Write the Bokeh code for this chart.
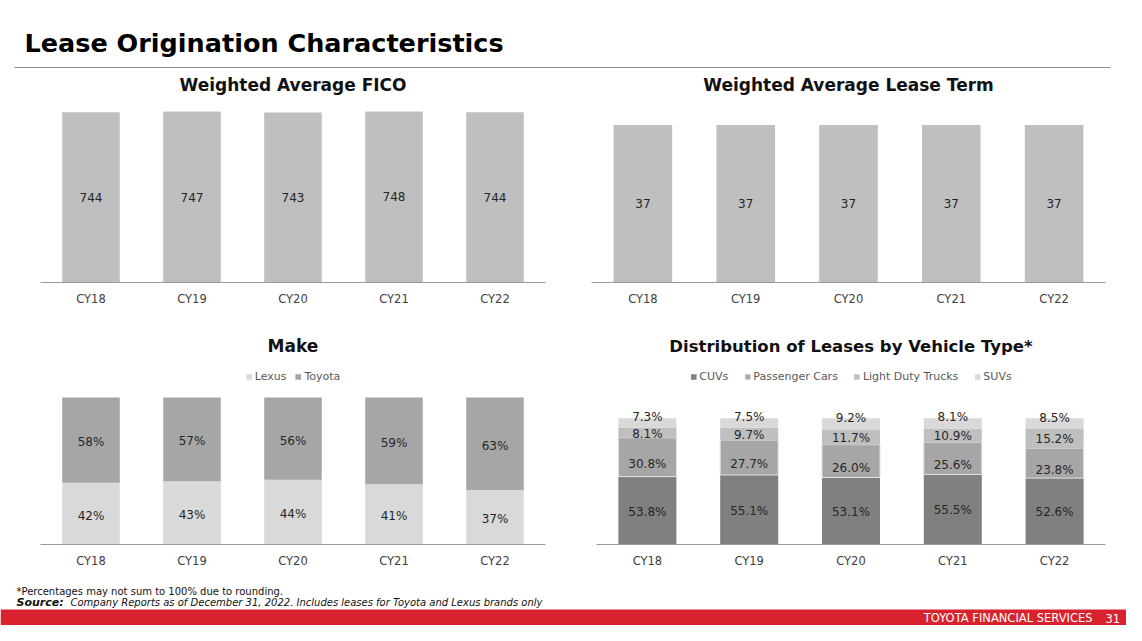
import numpy as np
from bokeh.plotting import figure
from bokeh.models import (Range1d, FactorRange, ColumnDataSource, Legend, LegendItem, Label)
from bokeh.layouts import column, row
from bokeh.embed import file_html
from bokeh.resources import INLINE
from bokeh.core.properties import value

# ---------------- data ----------------
years = ["CY18", "CY19", "CY20", "CY21", "CY22"]
fico = [744, 747, 743, 748, 744]
lease_term = [37, 37, 37, 37, 37]
make_names = ["Lexus", "Toyota"]
make_lexus = [42, 43, 44, 41, 37]
make_toyota = [58, 57, 56, 59, 63]
veh_names = ["CUVs", "Passenger Cars", "Light Duty Trucks", "SUVs"]
veh_cuvs = [53.8, 55.1, 53.1, 55.5, 52.6]
veh_pcars = [30.8, 27.7, 26.0, 25.6, 23.8]
veh_ldt = [8.1, 9.7, 11.7, 10.9, 15.2]
veh_suvs = [7.3, 7.5, 9.2, 8.1, 8.5]

FONT = "DejaVu Sans"
TXT = "#262626"
AXIS = "#9A9A9A"
RED = "#D8232F"


def base_chart(title, w, h, bl, br, bt, bb, yend, standoff, title_size="17px"):
    p = figure(x_range=FactorRange(*years), y_range=Range1d(0, yend),
               width=w, height=h, output_backend="svg", toolbar_location=None,
               min_border_left=bl, min_border_right=br, min_border_top=bt,
               min_border_bottom=bb, y_axis_location=None, title=title)
    p.x_range.range_padding = 0
    p.outline_line_color = None
    p.xgrid.grid_line_color = None
    p.ygrid.grid_line_color = None
    p.title.align = "center"
    p.title.text_font = FONT
    p.title.text_font_style = "bold"
    p.title.text_font_size = title_size
    p.title.text_color = "#111111"
    p.title.standoff = standoff
    ax = p.xaxis[0]
    ax.axis_line_color = AXIS
    ax.axis_line_width = 1.2
    ax.major_tick_line_color = None
    ax.minor_tick_line_color = None
    ax.major_tick_out = 0
    ax.major_tick_in = 0
    ax.major_label_standoff = 9
    ax.major_label_text_font = FONT
    ax.major_label_text_font_size = "11.5px"
    ax.major_label_text_color = "#404040"
    return p


def add_labels(p, xs, ys, texts, size="12px", y_offset=0):
    src = ColumnDataSource(dict(x=xs, y=ys, t=texts))
    p.text(x="x", y="y", text="t", source=src, text_align="center",
           text_baseline="middle", text_font=value(FONT), text_font_size=size,
           text_color=TXT, y_offset=y_offset)


def add_legend(p, items, spacing):
    lg = Legend(items=items, orientation="horizontal", location="top_center",
                margin=9, padding=6, spacing=spacing, label_standoff=3,
                glyph_width=7, glyph_height=7, label_height=12,
                label_text_font=FONT, label_text_font_size="11px",
                label_text_color="#595959", border_line_color=None,
                background_fill_alpha=0)
    p.add_layout(lg, "center")


# ---------------- FICO ----------------
p1 = base_chart("Weighted Average FICO", 563, 257, 40, 18, 31, 42, 800, 9)
p1.vbar(x=years, top=fico, width=0.57, color="#BFBFBF", line_color=None)
add_labels(p1, years, [v / 2 for v in fico], [str(v) for v in fico])

# ---------------- Lease term ----------------
p2 = base_chart("Weighted Average Lease Term", 563, 257, 28, 21, 31, 43, 43, 9)
p2.vbar(x=years, top=lease_term, width=0.57, color="#BFBFBF", line_color=None)
add_labels(p2, years, [v / 2 for v in lease_term], [str(v) for v in lease_term])

# ---------------- Make ----------------
p3 = base_chart("Make", 563, 255, 40, 18, 36, 36, 124.5, 12)
src3 = ColumnDataSource(dict(x=years, Lexus=make_lexus, Toyota=make_toyota))
r3 = p3.vbar_stack(make_names, x="x", width=0.57, color=["#D9D9D9", "#A6A6A6"],
                   line_color=None, source=src3)
add_legend(p3, [LegendItem(label=n, renderers=[r]) for n, r in zip(make_names, r3)], 8)
lex = np.array(make_lexus, dtype=float)
toy = np.array(make_toyota, dtype=float)
add_labels(p3, years, list(lex / 2), [f"{v}%" for v in make_lexus], y_offset=2)
add_labels(p3, years, list(lex + toy / 2), [f"{v}%" for v in make_toyota], y_offset=2)

# ---------------- Vehicle type ----------------
p4 = base_chart("Distribution of Leases by Vehicle Type*", 563, 255, 33, 21, 36, 36, 145, 12,
                title_size="16.5px")
src4 = ColumnDataSource(dict(x=years, CUVs=veh_cuvs, PC=veh_pcars, LDT=veh_ldt, SUVs=veh_suvs))
r4 = p4.vbar_stack(["CUVs", "PC", "LDT", "SUVs"], x="x", width=0.57,
                   fill_color=["#808080", "#A6A6A6", "#BFBFBF", "#D9D9D9"],
                   line_color=[None, "#E3E3E3", None, None], line_width=1, source=src4)
add_legend(p4, [LegendItem(label=n, renderers=[r]) for n, r in zip(veh_names, r4)], 15)
series = [veh_cuvs, veh_pcars, veh_ldt, veh_suvs]
offsets = [1, 7, 1, -6]
cum = np.zeros(len(years))
for s, off in zip(series, offsets):
    arr = np.array(s)
    add_labels(p4, years, list(cum + arr / 2), [f"{v:.1f}%" for v in s], y_offset=off)
    cum = cum + arr


# ---------------- header / footer canvases ----------------
def canvas(w, h):
    p = figure(width=w, height=h, x_range=Range1d(0, w), y_range=Range1d(h, 0),
               output_backend="svg", toolbar_location=None, min_border=0,
               x_axis_location=None, y_axis_location=None)
    p.outline_line_color = None
    p.xgrid.grid_line_color = None
    p.ygrid.grid_line_color = None
    return p


hdr = canvas(1126, 68)
hdr.add_layout(Label(x=24, y=42, text="Lease Origination Characteristics",
                     text_font=FONT, text_font_style="bold", text_font_size="25.5px",
                     text_color="#000000", text_baseline="middle"))
hdr.segment(x0=[14], y0=[67.5], x1=[1110], y1=[67.5], line_color="#222222", line_width=1)

ftr = canvas(1126, 45)
ftr.quad(left=[0], right=[1126], top=[29], bottom=[45], fill_color=RED, line_color=None)
ftr.add_layout(Label(x=16, y=11, text="*Percentages may not sum to 100% due to rounding.",
                     text_font=FONT, text_font_size="10px", text_color="#111111",
                     text_baseline="middle"))
ftr.add_layout(Label(x=16, y=22, text="Source:", text_font=FONT,
                     text_font_style="bold italic", text_font_size="11px",
                     text_color="#111111", text_baseline="middle"))
ftr.add_layout(Label(x=70, y=22,
                     text="Company Reports as of December 31, 2022. Includes leases for Toyota and Lexus brands only",
                     text_font=FONT, text_font_style="italic", text_font_size="10px",
                     text_color="#111111", text_baseline="middle"))
ftr.add_layout(Label(x=1092, y=37.5, text="TOYOTA FINANCIAL SERVICES", text_font=FONT,
                     text_font_size="11.5px", text_color="white", text_align="right",
                     text_baseline="middle"))
ftr.add_layout(Label(x=1105, y=37.5, text="31", text_font=FONT,
                     text_font_size="11.5px", text_color="white", text_align="left",
                     text_baseline="middle"))

layout = column(hdr, row(p1, p2), row(p3, p4), ftr)
open("out.html", "w").write(file_html(layout, INLINE))
